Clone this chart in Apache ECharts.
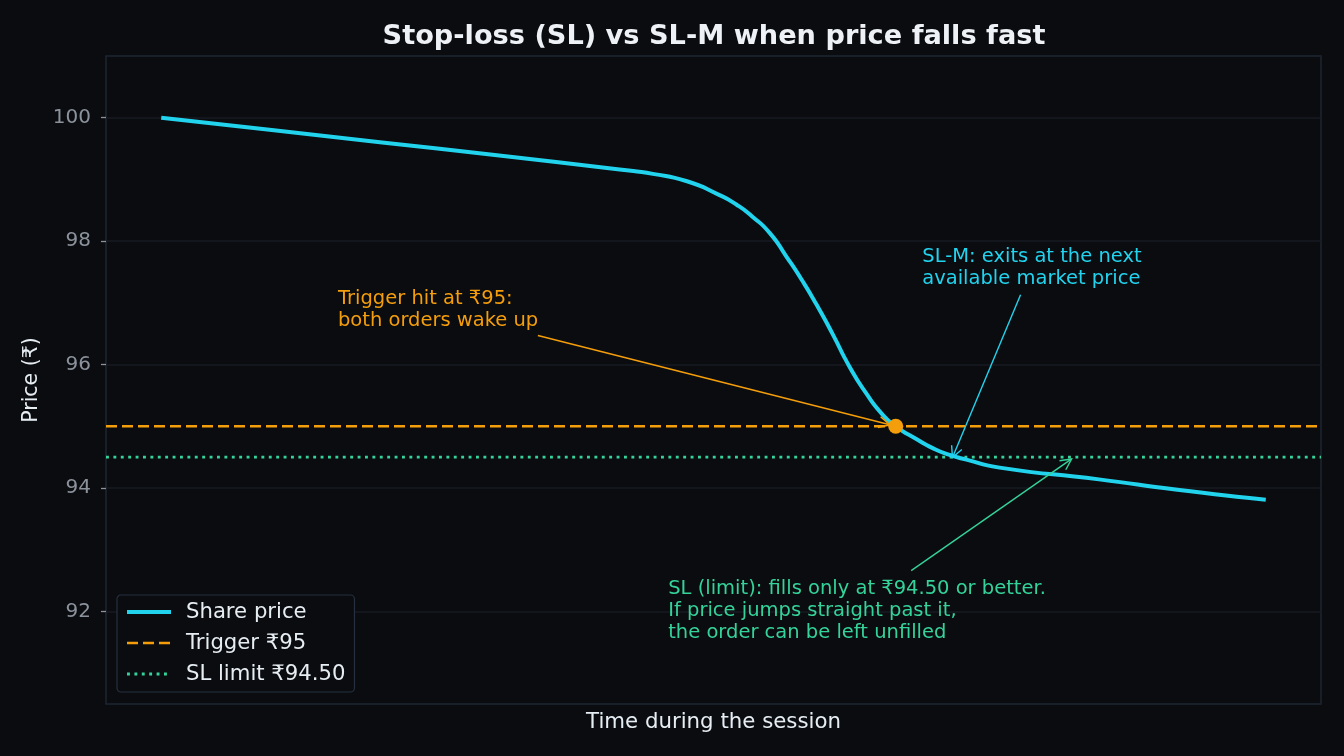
<!DOCTYPE html>
<html>
<head>
<meta charset="utf-8">
<title>Stop-loss (SL) vs SL-M</title>
<script src="https://cdn.jsdelivr.net/npm/echarts@6/dist/echarts.min.js"></script>
<style>
    html, body { margin: 0; padding: 0; background: #0b0c10; }
    #chart { width: 1344px; height: 756px; }
</style>
</head>
<body>
<div id="chart"></div>
<script>
// session time (0..100) and share price
const times = [0, 10, 20, 30, 41.5, 44.5, 47.6, 50.5, 52.1, 53.5, 55.1, 56.6, 58.0, 59.3, 60.8, 62.3, 63.8, 65.3, 66.5, 68.4, 69.8, 71.3, 72.9, 75.9, 84.9, 92, 100];
const prices = [100.0, 99.80, 99.60, 99.40, 99.16, 99.09, 98.97, 98.75, 98.59, 98.40, 98.13, 97.75, 97.37, 96.98, 96.49, 95.97, 95.54, 95.19, 95.0, 94.79, 94.65, 94.54, 94.46, 94.33, 94.14, 93.97, 93.81];
const triggerPrice = 95;
const limitPrice = 94.5;
const triggerTime = 66.5;
const yTicks = [92, 94, 96, 98, 100];

// annotations: text, text top-left, arrow tail, arrow head (all in data units)
const notes = [
    { text: 'Trigger hit at ₹95:\nboth orders wake up', at: [16.0, 97.33], from: [34.1, 96.47], to: [triggerTime, triggerPrice], color: '#f59e0b', width: 1.5 },
    { text: 'SL-M: exits at the next\navailable market price', at: [68.9, 98.0], from: [77.8, 97.13], to: [71.6, 94.48], color: '#22d3ee', width: 1.4 },
    { text: 'SL (limit): fills only at ₹94.50 or better.\nIf price jumps straight past it,\nthe order can be left unfilled', at: [45.9, 92.62], from: [67.9, 92.66], to: [82.5, 94.48], color: '#34d399', width: 1.4 }
];

const xMin = -5, xMax = 105;
const chart = echarts.init(document.getElementById('chart'));

const option = {
    backgroundColor: '#0b0c10',
    animation: false,
    title: {
        text: 'Stop-loss (SL) vs SL-M when price falls fast',
        left: 709, top: 18, textAlign: 'center',
        textStyle: { color: '#eef2f6', fontSize: 27.2, fontWeight: 'bold', fontFamily: 'DejaVu Sans' }
    },
    grid: {
        left: 106, right: 23, top: 56, bottom: 52,
        show: true, borderColor: '#1f2630', borderWidth: 1.5, backgroundColor: '#0b0c10'
    },
    legend: {
        orient: 'vertical', left: 117, top: 595,
        padding: [6, 9, 7, 8], itemGap: 9,
        itemWidth: 44, itemHeight: 14,
        itemStyle: { opacity: 0 },
        lineStyle: { width: 'inherit', type: 'inherit' },
        backgroundColor: '#0b0c10', borderColor: '#263040', borderWidth: 1.2, borderRadius: 4,
        textStyle: { color: '#e6edf3', fontSize: 21.2, lineHeight: 22, fontFamily: 'DejaVu Sans', padding: [0, 0, 0, 10] },
        data: ['Share price', 'Trigger ₹95', 'SL limit ₹94.50']
    },
    xAxis: {
        type: 'value', min: xMin, max: xMax,
        name: 'Time during the session', nameLocation: 'middle', nameGap: 8,
        nameTextStyle: { color: '#e6edf3', fontSize: 21.3, fontFamily: 'DejaVu Sans', verticalAlign: 'top' },
        axisLine: { show: false, onZero: false }, axisTick: { show: false }, axisLabel: { show: false }, splitLine: { show: false }
    },
    yAxis: {
        type: 'value', min: 90.5, max: 101,
        name: 'Price (₹)', nameLocation: 'middle', nameGap: 59, nameRotate: 90,
        nameTextStyle: { color: '#e6edf3', fontSize: 20.5, fontFamily: 'DejaVu Sans' },
        axisLine: { show: false, onZero: false },
        axisTick: { show: true, length: 5, customValues: yTicks, lineStyle: { color: '#8b929c', width: 1.3 } },
        axisLabel: { color: '#8b929c', fontSize: 20, margin: 15, fontFamily: 'DejaVu Sans', customValues: yTicks },
        splitLine: { show: true, lineStyle: { color: '#171b22', width: 1.5 } }
    },
    series: [
        {
            name: 'Share price', type: 'line', symbol: 'none', smooth: 0.6,
            data: times.map((t, i) => [t, prices[i]]),
            lineStyle: { color: '#22d3ee', width: 4 }, itemStyle: { color: '#22d3ee' }, z: 4
        },
        {
            name: 'Trigger ₹95', type: 'line', symbol: 'none',
            data: [[xMin, triggerPrice], [xMax, triggerPrice]],
            lineStyle: { color: '#f59e0b', width: 2.6, type: [11, 5] }, itemStyle: { color: '#f59e0b' }, z: 3
        },
        {
            name: 'SL limit ₹94.50', type: 'line', symbol: 'none',
            data: [[xMin, limitPrice], [xMax, limitPrice]],
            lineStyle: { color: '#34d399', width: 2.9, type: [2.9, 4.5] }, itemStyle: { color: '#34d399' }, z: 3
        },
        {
            name: 'trigger point', type: 'scatter', symbolSize: 15,
            data: [[triggerTime, triggerPrice]],
            itemStyle: { color: '#f59e0b', opacity: 1 }, z: 6
        }
    ]
};
chart.setOption(option);

// annotation texts and arrows placed through the grid's own scale
function arrowParts(n, shrink) {
    const p0 = chart.convertToPixel({ gridIndex: 0 }, n.from);
    let p1 = chart.convertToPixel({ gridIndex: 0 }, n.to);
    const dx = p1[0] - p0[0], dy = p1[1] - p0[1];
    const len = Math.sqrt(dx * dx + dy * dy);
    const ux = dx / len, uy = dy / len;
    p1 = [p1[0] - ux * shrink, p1[1] - uy * shrink];
    const hl = 11, hw = 5.5;
    const base = [p1[0] - ux * hl, p1[1] - uy * hl];
    const left = [base[0] - uy * hw, base[1] + ux * hw];
    const right = [base[0] + uy * hw, base[1] - ux * hw];
    return [
        { type: 'line', shape: { x1: p0[0], y1: p0[1], x2: p1[0], y2: p1[1] }, style: { stroke: n.color, lineWidth: n.width }, z: 5 },
        { type: 'polyline', shape: { points: [left, p1, right] }, style: { stroke: n.color, lineWidth: n.width, fill: null }, z: 5 }
    ];
}

const graphics = [];
notes.forEach(function (n, i) {
    const pt = chart.convertToPixel({ gridIndex: 0 }, n.at);
    graphics.push({
        type: 'text', x: pt[0], y: pt[1] + 5, z: 5,
        style: { text: n.text, fill: n.color, fontSize: 19.5, lineHeight: 22, fontFamily: 'DejaVu Sans', textAlign: 'left', textVerticalAlign: 'top' }
    });
    arrowParts(n, i === 0 ? 6 : 1).forEach(function (g) { graphics.push(g); });
});
chart.setOption({ graphic: graphics });
</script>
</body>
</html>
